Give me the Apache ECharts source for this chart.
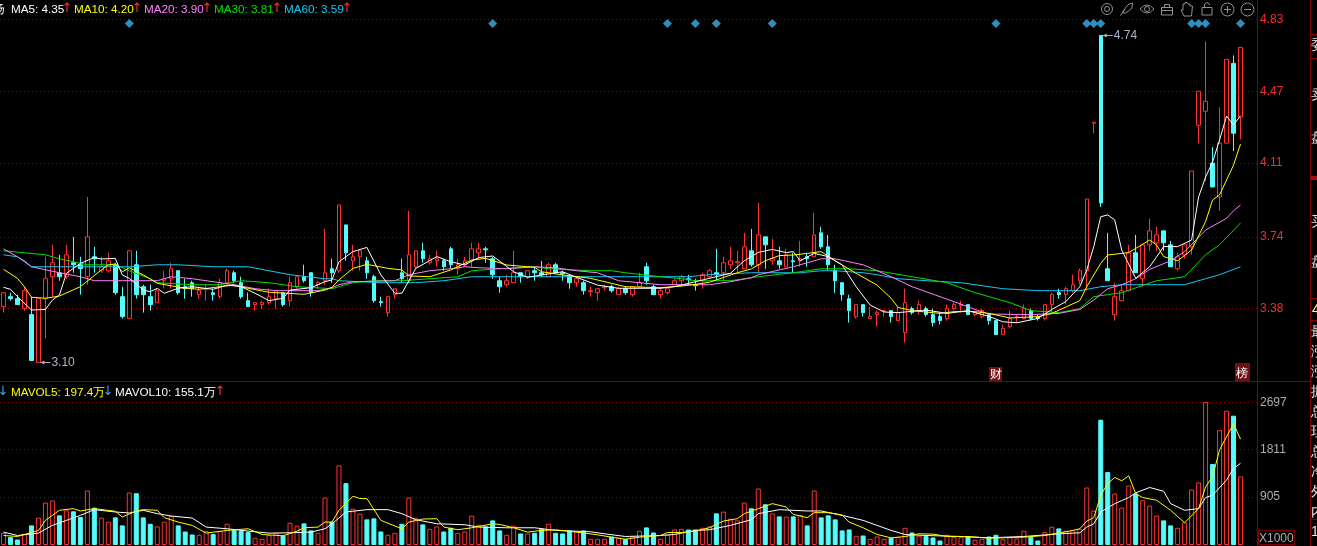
<!DOCTYPE html>
<html><head><meta charset="utf-8"><style>html,body{margin:0;padding:0;background:#000;overflow:hidden}#c{width:1317px;height:546px}</style>
<script src="https://cdn.jsdelivr.net/npm/echarts@6/dist/echarts.min.js"></script></head>
<body><div id="c"></div><script>
const opens=[3.39,3.44,3.43,3.38,3.35,3.11,3.43,3.54,3.56,3.54,3.61,3.60,3.54,3.64,3.57,3.57,3.60,3.44,3.33,3.60,3.49,3.44,3.41,3.52,3.53,3.57,3.49,3.51,3.45,3.475,3.46,3.44,3.51,3.56,3.51,3.42,3.40,3.40,3.41,3.43,3.46,3.42,3.49,3.54,3.56,3.50,3.52,3.58,3.57,3.80,3.62,3.64,3.62,3.54,3.415,3.36,3.45,3.56,3.52,3.59,3.67,3.61,3.62,3.62,3.68,3.58,3.60,3.62,3.66,3.68,3.63,3.52,3.50,3.51,3.56,3.54,3.57,3.56,3.54,3.60,3.56,3.54,3.51,3.51,3.465,3.46,3.485,3.49,3.45,3.48,3.45,3.49,3.59,3.49,3.45,3.46,3.50,3.52,3.53,3.50,3.52,3.54,3.56,3.56,3.60,3.61,3.58,3.67,3.60,3.74,3.62,3.62,3.59,3.62,3.62,3.64,3.64,3.76,3.69,3.57,3.51,3.43,3.34,3.40,3.33,3.35,3.365,3.37,3.32,3.26,3.38,3.37,3.38,3.35,3.34,3.33,3.38,3.395,3.40,3.35,3.34,3.35,3.32,3.25,3.29,3.335,3.33,3.37,3.34,3.33,3.40,3.46,3.45,3.47,3.52,3.57,4.31,4.75,3.58,3.35,3.42,3.47,3.66,3.53,3.70,3.71,3.77,3.70,3.58,3.65,3.69,4.30,4.37,4.11,3.94,4.21,4.61,4.34];
const closes=[3.46,3.43,3.40,3.47,3.12,3.43,3.53,3.61,3.54,3.65,3.60,3.58,3.74,3.63,3.59,3.62,3.46,3.34,3.67,3.45,3.45,3.40,3.47,3.53,3.58,3.46,3.48,3.48,3.47,3.48,3.45,3.51,3.57,3.52,3.44,3.39,3.41,3.41,3.44,3.47,3.40,3.51,3.54,3.52,3.46,3.51,3.56,3.56,3.90,3.66,3.64,3.67,3.56,3.42,3.41,3.44,3.48,3.53,3.65,3.67,3.63,3.63,3.63,3.59,3.60,3.60,3.62,3.68,3.68,3.675,3.55,3.49,3.52,3.56,3.54,3.57,3.56,3.55,3.60,3.56,3.555,3.51,3.53,3.47,3.47,3.48,3.49,3.47,3.48,3.46,3.49,3.51,3.52,3.45,3.47,3.48,3.52,3.54,3.525,3.495,3.55,3.57,3.55,3.61,3.62,3.615,3.69,3.60,3.75,3.70,3.63,3.60,3.65,3.615,3.63,3.63,3.75,3.69,3.60,3.52,3.45,3.37,3.40,3.36,3.34,3.36,3.37,3.34,3.36,3.41,3.36,3.40,3.35,3.31,3.32,3.38,3.40,3.40,3.35,3.36,3.37,3.32,3.25,3.28,3.33,3.34,3.38,3.33,3.33,3.40,3.45,3.45,3.48,3.50,3.57,3.93,4.315,3.91,3.52,3.44,3.47,3.66,3.56,3.70,3.77,3.75,3.71,3.59,3.64,3.70,4.07,4.47,4.42,3.99,4.21,4.63,4.26,4.69];
const lows=[3.36,3.42,3.40,3.37,3.12,3.11,3.23,3.44,3.52,3.53,3.56,3.45,3.50,3.56,3.56,3.56,3.45,3.33,3.33,3.43,3.36,3.37,3.41,3.48,3.48,3.45,3.43,3.44,3.43,3.42,3.42,3.43,3.51,3.51,3.43,3.39,3.37,3.38,3.40,3.38,3.39,3.39,3.48,3.51,3.44,3.48,3.50,3.51,3.56,3.62,3.57,3.57,3.53,3.41,3.39,3.34,3.43,3.51,3.51,3.58,3.61,3.60,3.59,3.57,3.58,3.55,3.59,3.59,3.63,3.61,3.53,3.46,3.49,3.51,3.51,3.53,3.52,3.54,3.54,3.56,3.52,3.48,3.49,3.45,3.44,3.42,3.47,3.46,3.45,3.45,3.44,3.49,3.50,3.45,3.43,3.45,3.50,3.49,3.50,3.47,3.48,3.53,3.52,3.52,3.58,3.56,3.58,3.59,3.56,3.58,3.60,3.58,3.59,3.56,3.59,3.59,3.64,3.68,3.57,3.46,3.42,3.31,3.33,3.34,3.33,3.29,3.34,3.31,3.32,3.21,3.35,3.35,3.34,3.29,3.30,3.32,3.37,3.36,3.35,3.34,3.33,3.30,3.25,3.25,3.28,3.31,3.33,3.32,3.32,3.32,3.36,3.43,3.40,3.46,3.50,3.47,4.26,3.89,3.52,3.32,3.42,3.47,3.56,3.49,3.67,3.67,3.67,3.59,3.57,3.63,3.65,4.21,4.02,3.99,3.87,4.21,4.17,4.23];
const highs=[3.46,3.46,3.45,3.49,3.44,3.43,3.64,3.70,3.65,3.70,3.74,3.64,3.94,3.69,3.64,3.66,3.61,3.49,3.67,3.67,3.50,3.50,3.48,3.57,3.61,3.57,3.53,3.52,3.49,3.50,3.48,3.53,3.58,3.57,3.54,3.46,3.41,3.42,3.48,3.47,3.46,3.54,3.54,3.60,3.56,3.52,3.78,3.63,3.90,3.80,3.70,3.67,3.64,3.55,3.44,3.44,3.48,3.63,3.87,3.67,3.71,3.65,3.67,3.63,3.69,3.63,3.64,3.71,3.71,3.69,3.64,3.54,3.55,3.67,3.56,3.57,3.59,3.62,3.61,3.61,3.57,3.55,3.54,3.52,3.49,3.48,3.50,3.50,3.49,3.49,3.49,3.56,3.61,3.50,3.49,3.48,3.53,3.55,3.55,3.53,3.56,3.58,3.68,3.64,3.69,3.67,3.76,3.78,3.91,3.74,3.73,3.69,3.68,3.66,3.72,3.66,3.86,3.79,3.75,3.60,3.51,3.45,3.40,3.40,3.39,3.37,3.37,3.37,3.39,3.48,3.39,3.42,3.39,3.38,3.36,3.40,3.41,3.42,3.40,3.37,3.38,3.35,3.32,3.30,3.37,3.35,3.40,3.38,3.35,3.40,3.46,3.48,3.49,3.55,3.58,3.93,4.315,4.75,3.76,3.51,3.50,3.70,3.75,3.70,3.83,3.79,3.77,3.72,3.66,3.70,4.07,4.47,4.72,4.19,4.39,4.63,4.65,4.69];
const volumes=[230,149,104,212,371,517,803,841,561,657,638,530,1031,707,517,441,523,371,993,980,523,402,352,441,548,371,256,199,193,263,206,263,402,282,269,244,136,117,187,225,180,421,364,409,276,231,898,441,1507,1171,688,593,485,504,256,193,231,402,898,517,390,307,352,256,326,231,256,555,383,352,466,276,193,364,218,218,231,307,402,231,218,276,256,276,117,117,117,161,136,110,161,269,333,237,117,199,294,307,294,294,326,352,599,631,498,466,803,695,1069,771,599,542,536,542,568,371,1031,523,561,485,276,294,174,180,117,161,117,136,148,326,237,174,168,142,85,193,155,148,161,98,117,161,193,110,149,123,269,155,85,244,345,314,269,282,307,1088,650,2371,1380,974,707,1126,974,847,745,555,466,371,326,428,1050,1184,2708,1533,2174,2542,2447,1298];
const ma5=[[0,3.487],[1,3.477],[2,3.44],[4,3.373],[6,3.376],[7,3.423],[8,3.448],[9,3.557],[11,3.607],[13,3.636],[14,3.629],[16,3.632],[17,3.549],[18,3.532],[20,3.473],[21,3.465],[22,3.482],[23,3.457],[25,3.482],[27,3.49],[30,3.477],[32,3.498],[34,3.49],[36,3.457],[38,3.42],[40,3.432],[41,3.473],[44,3.485],[46,3.515],[47,3.524],[48,3.615],[50,3.666],[52,3.687],[54,3.549],[56,3.457],[57,3.457],[59,3.582],[62,3.641],[64,3.615],[66,3.599],[68,3.636],[70,3.644],[73,3.565],[75,3.537],[77,3.549],[80,3.565],[82,3.537],[85,3.498],[88,3.482],[94,3.482],[96,3.49],[99,3.515],[101,3.532],[104,3.557],[106,3.62],[108,3.662],[110,3.677],[112,3.661],[113,3.666],[114,3.62],[116,3.657],[118,3.641],[120,3.599],[122,3.49],[124,3.398],[126,3.363],[128,3.36],[132,3.373],[135,3.356],[138,3.37],[141,3.341],[143,3.314],[145,3.309],[148,3.331],[150,3.376],[152,3.415],[154,3.49],[155,3.574],[156,3.691],[157,3.841],[158,3.85],[159,3.825],[160,3.674],[162,3.532],[164,3.59],[166,3.691],[168,3.691],[170,3.724],[171,3.94],[172,4.04],[173,4.115],[174,4.226],[175,4.346],[176,4.30],[177,4.348]];
const ma10=[[0,3.577],[2,3.532],[3,3.49],[4,3.437],[6,3.432],[8,3.443],[11,3.49],[14,3.574],[15,3.599],[16,3.604],[17,3.565],[18,3.585],[20,3.549],[22,3.507],[26,3.482],[28,3.477],[31,3.49],[33,3.498],[35,3.482],[38,3.462],[43,3.452],[46,3.473],[47,3.487],[48,3.524],[50,3.582],[52,3.602],[55,3.582],[57,3.574],[58,3.544],[61,3.54],[64,3.574],[67,3.624],[69,3.632],[72,3.599],[76,3.587],[77,3.565],[80,3.549],[84,3.532],[89,3.49],[94,3.485],[97,3.493],[99,3.502],[101,3.512],[105,3.56],[107,3.579],[109,3.62],[111,3.646],[113,3.649],[115,3.657],[117,3.666],[119,3.62],[122,3.557],[125,3.498],[127,3.432],[128,3.386],[130,3.37],[134,3.356],[136,3.365],[139,3.365],[141,3.356],[144,3.333],[148,3.34],[150,3.356],[154,3.42],[155,3.49],[157,3.607],[158,3.649],[161,3.661],[164,3.724],[165,3.699],[166,3.641],[168,3.62],[170,3.674],[172,3.816],[173,3.925],[174,3.95],[175,4.025],[176,4.10],[177,4.206]];
const ma20=[[0,3.68],[2,3.64],[4,3.59],[8,3.56],[11,3.54],[13,3.52],[17,3.52],[22,3.52],[24,3.54],[27,3.53],[31,3.51],[33,3.50],[36,3.48],[39,3.47],[45,3.47],[47,3.485],[48,3.50],[50,3.515],[56,3.52],[58,3.55],[61,3.57],[64,3.58],[66,3.59],[68,3.585],[72,3.58],[76,3.59],[79,3.585],[82,3.57],[85,3.56],[88,3.52],[94,3.50],[99,3.50],[101,3.50],[104,3.515],[107,3.535],[108,3.55],[113,3.59],[117,3.63],[119,3.63],[123,3.60],[127,3.54],[130,3.49],[134,3.44],[136,3.415],[139,3.376],[141,3.353],[147,3.35],[151,3.356],[154,3.376],[156,3.423],[158,3.48],[160,3.50],[162,3.53],[164,3.577],[167,3.62],[169,3.666],[172,3.774],[175,3.833],[176,3.871],[177,3.90]];
const ma30=[[0,3.67],[3,3.66],[6,3.65],[8,3.63],[12,3.60],[16,3.60],[18,3.57],[21,3.53],[22,3.51],[27,3.50],[31,3.50],[34,3.52],[38,3.51],[42,3.49],[47,3.48],[50,3.51],[53,3.52],[57,3.52],[61,3.53],[65,3.54],[67,3.57],[71,3.58],[76,3.59],[78,3.58],[84,3.57],[87,3.57],[89,3.56],[94,3.54],[97,3.53],[99,3.52],[104,3.52],[108,3.54],[113,3.56],[117,3.58],[121,3.58],[125,3.57],[130,3.54],[135,3.51],[139,3.46],[141,3.44],[144,3.41],[147,3.37],[151,3.36],[154,3.38],[156,3.44],[158,3.45],[160,3.46],[165,3.52],[169,3.54],[172,3.65],[174,3.70],[177,3.81]];
const ma60=[[0,3.65],[2,3.64],[3,3.62],[4,3.59],[10,3.59],[18,3.59],[22,3.60],[25,3.60],[30,3.59],[35,3.59],[38,3.57],[41,3.55],[46,3.53],[47,3.53],[48,3.52],[54,3.51],[59,3.51],[63,3.52],[67,3.54],[73,3.54],[77,3.54],[85,3.54],[89,3.54],[94,3.54],[98,3.54],[101,3.55],[107,3.56],[114,3.56],[117,3.57],[119,3.57],[123,3.56],[125,3.55],[128,3.53],[132,3.52],[137,3.51],[141,3.49],[143,3.48],[148,3.47],[154,3.47],[157,3.49],[160,3.50],[164,3.50],[169,3.50],[172,3.53],[174,3.55],[177,3.59]];
const mavol5=[[0,180],[2,161],[5,275],[6,466],[7,561],[8,657],[10,688],[11,644],[13,688],[16,638],[17,530],[19,644],[20,669],[22,657],[23,517],[25,434],[27,371],[29,225],[32,276],[35,307],[37,199],[40,174],[42,263],[43,326],[45,339],[46,434],[47,434],[48,656],[50,923],[51,879],[52,879],[54,466],[57,307],[58,434],[60,491],[62,498],[63,339],[65,288],[67,326],[70,402],[71,390],[73,326],[75,244],[77,276],[79,288],[82,244],[85,193],[87,148],[89,110],[91,148],[94,180],[95,237],[97,237],[99,263],[101,326],[103,453],[105,498],[106,593],[108,688],[110,783],[112,720],[113,580],[115,517],[116,612],[118,612],[120,568],[121,434],[123,326],[125,199],[127,136],[129,161],[131,212],[133,206],[135,161],[138,161],[141,129],[146,149],[149,180],[153,275],[154,307],[155,453],[156,517],[157,942],[158,1164],[159,1279],[160,1215],[161,1310],[162,974],[163,898],[165,847],[167,657],[169,422],[171,688],[172,1101],[173,1291],[174,1800],[176,2295],[177,2003]];
const mavol10=[[0,244],[2,180],[5,225],[7,371],[9,466],[11,561],[13,669],[16,625],[18,606],[20,657],[22,593],[24,548],[27,510],[29,339],[32,307],[35,263],[38,225],[41,231],[44,244],[46,307],[47,400],[49,625],[52,669],[55,669],[57,593],[59,479],[62,402],[66,383],[68,339],[72,326],[76,326],[79,276],[84,250],[86,212],[89,161],[94,180],[96,199],[99,276],[101,288],[104,371],[107,479],[108,593],[111,669],[115,644],[117,644],[120,561],[123,466],[125,371],[127,276],[129,199],[132,180],[137,161],[139,148],[141,136],[146,161],[151,212],[154,231],[155,339],[156,402],[157,625],[159,783],[161,898],[162,987],[164,1088],[166,1018],[167,783],[169,657],[171,688],[172,898],[173,942],[175,1228],[176,1450],[177,1546]];
const markerIdx=[18,70,95,99,102,110,142,155,156,157,170,171,172,177];
const noteIdx=[5,157],notePrice=[3.11,4.75],noteText=['3.10','4.74'];
const priceTicks=[3.38,3.74,4.11,4.47,4.83];
const volumeTicks=[905,1811,2697];
const categories=Array.from({length:180},(_,i)=>String(i));

const RED='#ff3232',CY='#54fcfc',DK='#800000',FONT='"Liberation Sans",Arial,sans-serif';
const t=(x,y,text,fill,size,align,fam)=>({type:'text',x,y,silent:true,style:{text,fill,font:(size||11.7)+'px '+(fam||FONT),textAlign:align||'left',textVerticalAlign:'middle'}});
const ar=(x,y,s,c)=>t(x,y,s,c,13,'center','"DejaVu Sans"');
const ln=(x1,y1,x2,y2,c,w)=>({type:'line',silent:true,shape:{x1,y1,x2,y2},style:{stroke:c||DK,lineWidth:w||1}});
const G='#909090';
const ic={fill:'none',stroke:G,lineWidth:1};
const pl=(pts)=>({type:'polyline',shape:{points:pts},style:ic});
const icons=[
 {type:'circle',shape:{cx:1107,cy:9,r:5.5},style:ic},{type:'circle',shape:{cx:1107,cy:9,r:2.5},style:ic},
 pl([[1120.5,15.5],[1126,7],[1129,4],[1132.5,3],[1132,8],[1128,11.5],[1125,13],[1122.5,13],[1125,9]]),
 pl([[1140,9],[1143.5,6],[1147,5],[1150.5,6],[1154,9],[1150.5,12],[1147,13],[1143.5,12],[1140,9]]),{type:'circle',shape:{cx:1147,cy:9,r:2.5},style:ic},
 {type:'rect',shape:{x:1161.5,y:7.5,width:11,height:7.5},style:ic},pl([[1164.5,7.5],[1164.5,4.5],[1169.5,4.5],[1169.5,7.5]]),pl([[1161.5,10.5],[1172.5,10.5]]),
 pl([[1184,16],[1181,10],[1183,10],[1183,4],[1185,4],[1185,2.5],[1187,2.5],[1188,4],[1190,4],[1190,6],[1192.5,6],[1191.5,16],[1184,16]]),
 {type:'rect',shape:{x:1202,y:7.5,width:10,height:7.5},style:ic},pl([[1204.5,7.5],[1204.5,4],[1207,2.5],[1209.5,4],[1209.5,5]]),
 {type:'circle',shape:{cx:1227.5,cy:9.5,r:6.5},style:ic},ln(1224,9.5,1231,9.5,G),ln(1227.5,6,1227.5,13,G),
 {type:'circle',shape:{cx:1247.5,cy:9.5,r:6.5},style:ic},ln(1244,9.5,1251,9.5,G)
].map(e=>Object.assign({silent:true},e));
const sideChars=[[45,'委'],[95,'卖'],[138,'盘'],[222,'买'],[262,'盘'],[332,'最'],[352,'涨'],[372,'涨'],[392,'振'],[412,'总'],[432,'现'],[452,'总'],[472,'净'],[492,'外'],[512,'内']];
const elements=[
 ...icons,
 t(-7,10,'扬','#fff',12),
 t(11,10,'MA5: 4.35','#fff'),ar(67,9,'↑',RED),
 t(74,10,'MA10: 4.20','#ffff00'),ar(137,9,'↑',RED),
 t(144,10,'MA20: 3.90','#ff80ff'),ar(207,9,'↑',RED),
 t(214,10,'MA30: 3.81','#00e000'),ar(277,9,'↑',RED),
 t(284,10,'MA60: 3.59','#14c8f0'),ar(347,9,'↑',RED),
 ar(3,392,'↓','#30a8f0'),t(11,393,'MAVOL5: 197.4万','#ffff00'),ar(108,392,'↓','#30a8f0'),
 t(115,393,'MAVOL10: 155.1万','#fff'),ar(220,392,'↑',RED),
 ln(0,381.5,1310,381.5),ln(1257.5,0,1257.5,546),ln(1310.5,0,1310.5,546),
 ln(1310,34.5,1317,34.5),ln(1310,58.5,1317,58.5),ln(1310,298.5,1317,298.5),ln(1310,320.5,1317,320.5),ln(1310,519.5,1317,519.5),
 {type:'rect',silent:true,shape:{x:1311,y:176,width:6,height:4},style:{fill:'#a01010'}},
 {type:'rect',silent:true,shape:{x:1258.5,y:530.5,width:36,height:14},style:{fill:'#000',stroke:DK}},
 t(1259,539,'X1000','#a8b0b0',12),
 {type:'rect',silent:true,shape:{x:989,y:367,width:13,height:14},style:{fill:'#701010'}},t(995.5,375,'财','#fff',12,'center'),
 {type:'rect',silent:true,shape:{x:1235,y:363,width:15,height:18},style:{fill:'#701010'}},t(1242,374,'榜','#fff',12,'center'),
 ...sideChars.map(c=>t(1311,c[0],c[1],'#e8e8e8',14)),
 t(1312,310,'4','#ffff80',14),t(1311,532,'1','#e8e8e8',14)
];
const lineS=(name,data,color,xi)=>({name,type:'line',data,xAxisIndex:xi,yAxisIndex:xi,showSymbol:false,symbol:'none',silent:true,lineStyle:{color,width:1},z:3,clip:true});
const chart=echarts.init(document.getElementById('c'),null,{renderer:'canvas'});
const yBase={type:'value',position:'right',scale:false,axisLine:{show:false},splitLine:{show:true,lineStyle:{color:'#8a0000',type:[1,3],width:1}}};
chart.setOption({
 backgroundColor:'#000',animation:false,
 grid:[{left:-2,width:1260,top:0,height:381},{left:-2,width:1260,top:382,height:163}],
 xAxis:[0,1].map(i=>({type:'category',gridIndex:i,data:categories,boundaryGap:true,axisLine:{show:false},axisTick:{show:false},axisLabel:{show:false},splitLine:{show:false}})),
 yAxis:[
  Object.assign({},yBase,{gridIndex:0,min:3.017,max:4.928,axisTick:{show:false,customValues:priceTicks},axisLabel:{customValues:priceTicks,margin:2,padding:[2,0,0,0],color:'#f03030',fontFamily:'Liberation Sans',fontSize:12,formatter:v=>v.toFixed(2)}}),
  Object.assign({},yBase,{gridIndex:1,min:0,max:3085,axisTick:{show:false,customValues:volumeTicks},axisLabel:{customValues:volumeTicks,margin:2,padding:[2,0,0,0],color:'#a8b0b0',fontFamily:'Liberation Sans',fontSize:12,formatter:v=>String(v)}})
 ],
 graphic:{elements},
 series:[
  {name:'K',type:'candlestick',xAxisIndex:0,yAxisIndex:0,barWidth:4,silent:true,z:2,
   data:opens.map((o,i)=>[o,closes[i],lows[i],highs[i]]),
   itemStyle:{color:'#000',color0:CY,borderColor:RED,borderColor0:CY,borderWidth:1}},
  {name:'signal',type:'scatter',xAxisIndex:0,yAxisIndex:0,symbol:'diamond',symbolSize:[9,9],silent:true,z:4,
   data:markerIdx.map(i=>[i,4.81]),itemStyle:{color:'#2e8fbe',opacity:1}},
  {name:'notes',type:'custom',xAxisIndex:0,yAxisIndex:0,silent:true,z:5,clip:false,
   data:noteIdx.map((k,i)=>[k,notePrice[i]]),
   encode:{x:0,y:1},
   renderItem:(p,api)=>{const c=api.coord([api.value(0),api.value(1)]);const x=c[0],y=Math.round(c[1])+0.5;
     return {type:'group',children:[
      {type:'line',shape:{x1:x+2,y1:y,x2:x+12,y2:y},style:{stroke:'#b0b0b0',lineWidth:1}},
      {type:'polygon',shape:{points:[[x+2,y],[x+6,y-2],[x+6,y+2]]},style:{fill:'#b0b0b0'}},
      {type:'text',x:x+13,y:y,style:{text:noteText[p.dataIndex],fill:'#a9b8c8',font:'12px '+FONT,textVerticalAlign:'middle'}}]};}},
  lineS('MA60',ma60,'#14c8f0',0),lineS('MA30',ma30,'#00e000',0),lineS('MA20',ma20,'#ff80ff',0),lineS('MA10',ma10,'#ffff00',0),lineS('MA5',ma5,'#ffffff',0),
  {name:'VOL',type:'bar',xAxisIndex:1,yAxisIndex:1,barWidth:5,silent:true,z:2,
   data:volumes.map((v,i)=>{const up=closes[i]>=opens[i];return {value:v,itemStyle:{color:up?'#000':CY,borderColor:up?RED:CY,borderWidth:1}};})},
  lineS('MAVOL10',mavol10,'#ffffff',1),lineS('MAVOL5',mavol5,'#ffff00',1)
 ]
});
</script></body></html>
